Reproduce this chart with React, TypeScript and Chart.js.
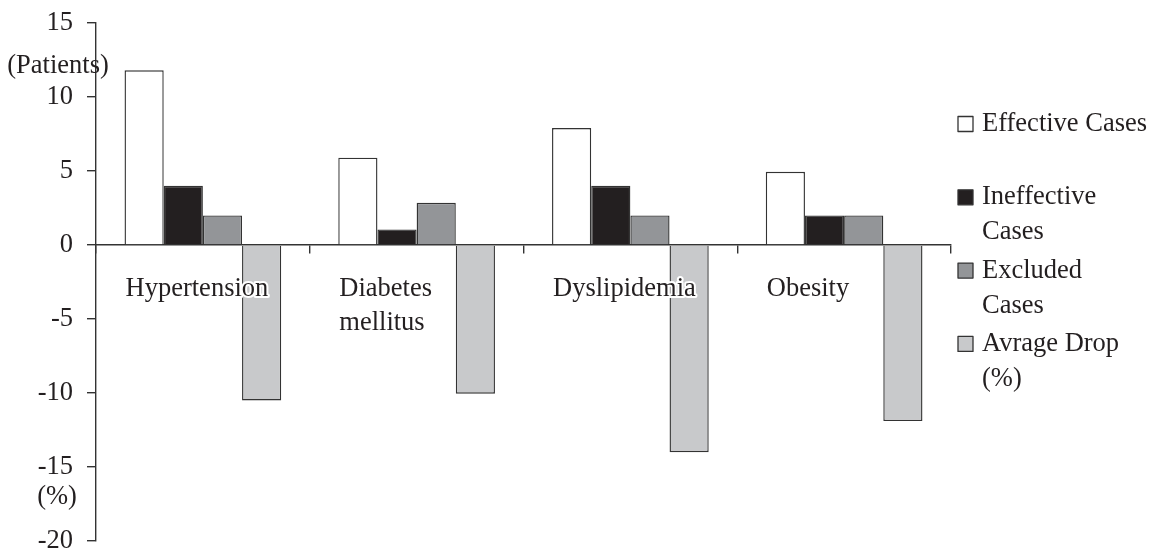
import React, { useEffect, useRef } from "react";
import { Chart, registerables } from "chart.js";

Chart.register(...registerables);

const categories: string[][] = [["Hypertension"], ["Diabetes", "mellitus"], ["Dyslipidemia"], ["Obesity"]];
const seriesNames: string[][] = [["Effective Cases"], ["Ineffective", "Cases"], ["Excluded", "Cases"], ["Avrage Drop", "(%)"]];
const effectiveCases = [11.8, 5.9, 7.9, 4.95];
const ineffectiveCases = [4, 1.05, 4, 2];
const excludedCases = [2, 2.85, 2, 2];
const averageDrop = [-10.5, -10.05, -14, -11.9];
const seriesColors = ["#ffffff", "#231f20", "#939598", "#c8c9cb"];
const yTicks = [15, 10, 5, 0, -5, -10, -15, -20];
const topAxisNote = "(Patients)";
const bottomAxisNote = "(%)";

const FONT = "'Liberation Serif', 'Times New Roman', serif";
const TEXT = "#231f20";

const overlayPlugin = {
  id: "overlay",
  afterDatasetsDraw(chart: any) {
    const { ctx, chartArea, scales } = chart;
    const y = scales.y;
    const zero = y.getPixelForValue(0);
    ctx.save();
    ctx.font = `26.5px ${FONT}`;
    ctx.textBaseline = "middle";
    // category labels, left aligned at first bar of each group
    const meta = chart.getDatasetMeta(0);
    categories.forEach((lines, i) => {
      const bar = meta.data[i];
      const left = bar.x - bar.width / 2 + 1;
      lines.forEach((line, j) => {
        const ty = zero + 44 + j * 34;
        ctx.textAlign = "left";
        ctx.lineWidth = 4;
        ctx.strokeStyle = "#ffffff";
        ctx.lineJoin = "round";
        ctx.strokeText(line, left, ty);
        ctx.fillStyle = TEXT;
        ctx.fillText(line, left, ty);
      });
    });
    // axis notes
    ctx.textAlign = "center";
    ctx.fillStyle = TEXT;
    ctx.fillText(topAxisNote, 58, y.getPixelForValue(12.1));
    ctx.fillText(bottomAxisNote, 57, y.getPixelForValue(-17));
    // legend
    const bx = chartArea.right + 7;
    const tx = chartArea.right + 31;
    const firstY = 124;
    seriesNames.forEach((lines, i) => {
      const cy = firstY + i * 73.3;
      ctx.fillStyle = seriesColors[i];
      ctx.fillRect(bx, cy - 7.5, 15, 15);
      ctx.strokeStyle = "#333333";
      ctx.lineWidth = 1.3;
      ctx.strokeRect(bx, cy - 7.5, 15, 15);
      ctx.fillStyle = TEXT;
      ctx.textAlign = "left";
      lines.forEach((line, j) => {
        ctx.fillText(line, tx, cy + j * 35);
      });
    });
    ctx.restore();
  },
};

export default function App() {
  const ref = useRef<HTMLCanvasElement>(null);
  useEffect(() => {
    document.body.style.margin = "0";
    const values = [effectiveCases, ineffectiveCases, excludedCases, averageDrop];
    const chart = new Chart(ref.current as HTMLCanvasElement, {
      type: "bar",
      data: {
        labels: categories.map((c) => c.join(" ")),
        datasets: values.map((v, i) => ({
          label: seriesNames[i].join(" "),
          data: v,
          backgroundColor: seriesColors[i],
          borderColor: "#333333",
          borderWidth: 1.4,
          categoryPercentage: 0.733,
          barPercentage: 1,
        })),
      },
      options: {
        animation: false,
        responsive: false,
        devicePixelRatio: 1,
        layout: { padding: { left: 0, right: 203, top: 23, bottom: 10 } },
        plugins: { legend: { display: false }, tooltip: { enabled: false } },
        scales: {
          x: {
            position: { y: 0 } as any,
            afterFit: (s: any) => {
              s.height = 0;
            },
            ticks: { display: false },
            grid: {
              offset: true,
              drawOnChartArea: false,
              drawTicks: true,
              tickLength: 8,
              color: "#333333",
              lineWidth: 1.4,
            },
            border: { display: true, color: "#333333", width: 1.4 },
          },
          y: {
            min: -20,
            max: 15,
            afterFit: (s: any) => {
              s.width = 96;
              s.paddingTop = 0;
              s.paddingBottom = 0;
            },
            afterBuildTicks: (s: any) => {
              s.ticks = yTicks.map((v) => ({ value: v }));
            },
            ticks: {
              color: TEXT,
              font: { family: FONT, size: 26.5, lineHeight: 0.7 },
              padding: 14,
            },
            grid: {
              drawOnChartArea: false,
              drawTicks: true,
              tickLength: 9,
              color: "#333333",
              lineWidth: 1.4,
            },
            border: { display: true, color: "#333333", width: 1.4 },
          },
        },
      },
      plugins: [overlayPlugin],
    });
    return () => chart.destroy();
  }, []);
  return (
    <div style={{ width: 1154, height: 551, position: "relative" }}>
      <canvas ref={ref} width={1154} height={551} style={{ display: "block" }} />
    </div>
  );
}
